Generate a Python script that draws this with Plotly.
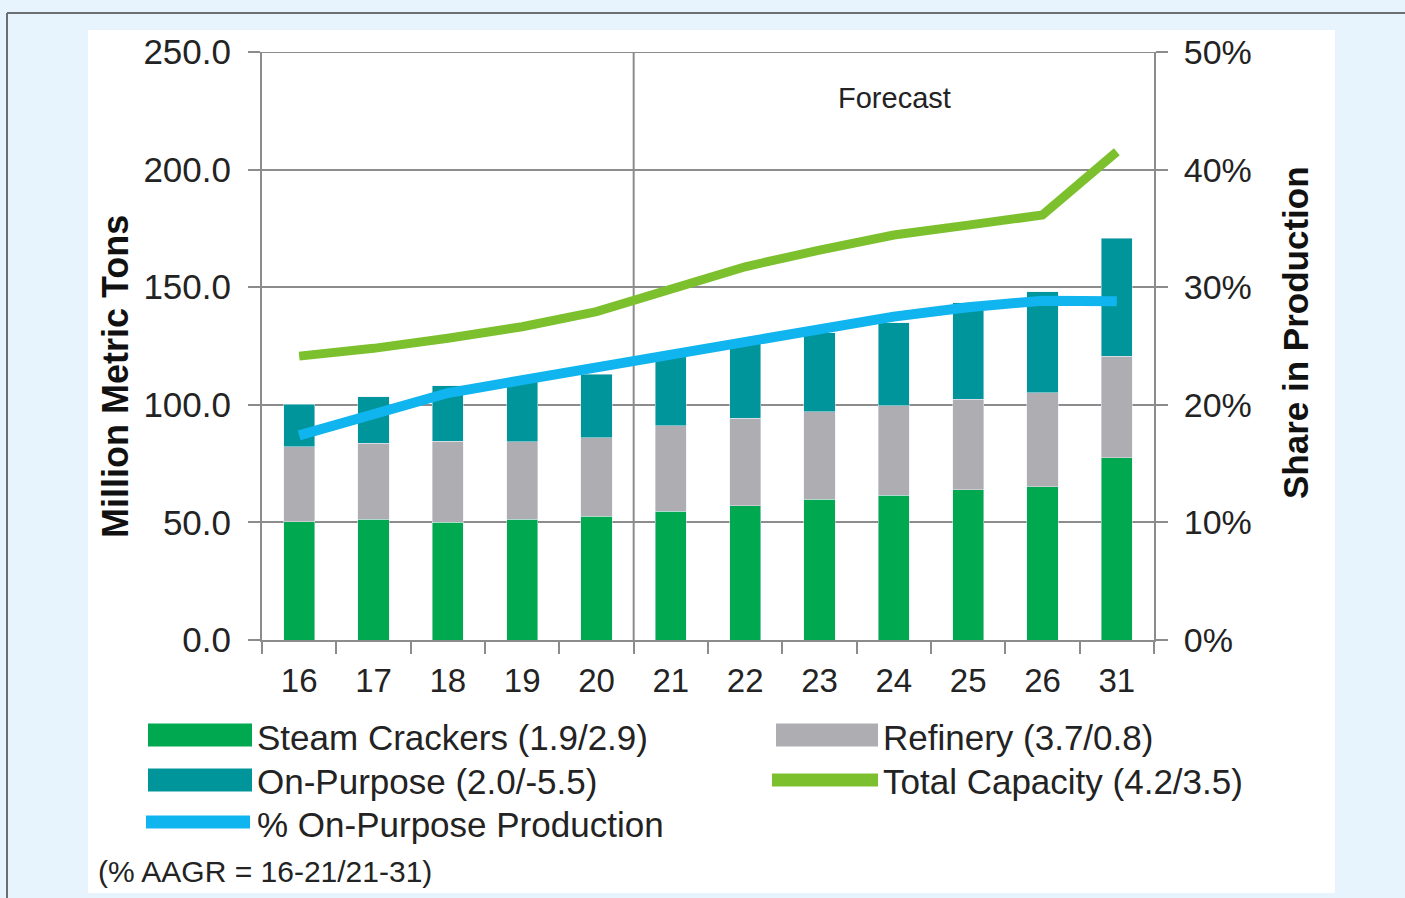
import plotly.graph_objects as go

# Production by source (million metric tons) and share of on-purpose output
years = ["16", "17", "18", "19", "20", "21", "22", "23", "24", "25", "26", "31"]
steam_crackers = [50.3, 51.4, 50.0, 51.4, 52.7, 54.8, 57.0, 59.8, 61.6, 63.8, 65.2, 77.5]
refinery = [31.9, 32.2, 34.6, 32.9, 33.3, 36.2, 37.3, 37.3, 37.9, 38.5, 39.9, 43.2]
on_purpose = [18.1, 19.8, 23.4, 27.0, 27.0, 29.7, 31.8, 33.6, 35.3, 41.1, 43.0, 50.1]
total_capacity = [120.7, 124.0, 128.3, 133.2, 139.6, 148.8, 158.7, 165.8, 172.2, 176.4, 180.7, 207.6]
pct_on_purpose = [0.174, 0.193, 0.210, 0.221, 0.232, 0.244, 0.2545, 0.265, 0.275, 0.283, 0.2885, 0.288]

legend_labels = [
    "Steam Crackers (1.9/2.9)",
    "Refinery (3.7/0.8)",
    "On-Purpose (2.0/-5.5)",
    "Total Capacity (4.2/3.5)",
    "% On-Purpose Production",
]
note_text = "(% AAGR = 16-21/21-31)"

C_STEAM = "#00a84f"
C_REF = "#aeadb1"
C_ONP = "#00959a"
C_TOT = "#7cc12d"
C_PCT = "#10b4ee"
GRID = "#8c8c8c"
TXT = "#232323"
FONT = "Liberation Sans, Arial, sans-serif"

W, H = 1405, 898


def px(x):
    return x / W


def py(y):
    return 1 - y / H


fig = go.Figure()
fig.add_bar(x=years, y=steam_crackers, marker_color=C_STEAM, name=legend_labels[0])
fig.add_bar(x=years, y=refinery, marker_color=C_REF, name=legend_labels[1])
fig.add_bar(x=years, y=on_purpose, marker_color=C_ONP, name=legend_labels[2])
fig.add_scatter(x=years, y=total_capacity, mode="lines", name=legend_labels[3],
                line=dict(color=C_TOT, width=9))
fig.add_scatter(x=years, y=pct_on_purpose, mode="lines", name=legend_labels[4],
                yaxis="y2", line=dict(color=C_PCT, width=10))

x0, x1 = 262, 1154
y_top, y_bot = 52, 640

axis_common = dict(
    showline=True, linecolor=GRID, linewidth=2,
    ticks="outside", tickcolor=GRID, tickwidth=2, ticklen=12,
    automargin=False,
)

fig.update_layout(
    width=W, height=H,
    margin=dict(l=0, r=0, t=0, b=0, pad=0, autoexpand=False),
    paper_bgcolor="#e7f3fd",
    plot_bgcolor="rgba(0,0,0,0)",
    barmode="stack",
    bargap=0.58,
    showlegend=False,
    xaxis=dict(
        domain=[px(x0), px(x1)],
        type="category",
        tickson="boundaries",
        showgrid=False,
        ticklabelstandoff=10,
        tickfont=dict(family=FONT, size=33, color=TXT),
        **axis_common,
    ),
    yaxis=dict(
        domain=[py(y_bot), py(y_top)],
        range=[0, 250], dtick=50, tickformat=".1f",
        showgrid=True, gridcolor=GRID, gridwidth=2,
        zeroline=False,
        ticklabelstandoff=10,
        tickfont=dict(family=FONT, size=35, color=TXT),
        **axis_common,
    ),
    yaxis2=dict(
        overlaying="y", side="right",
        range=[0, 0.5], dtick=0.1, tickformat=".0%",
        showgrid=False, zeroline=False,
        ticklabelstandoff=9,
        tickfont=dict(family=FONT, size=34, color=TXT),
        **axis_common,
    ),
)

shapes = [
    # white card behind the chart
    dict(type="rect", xref="paper", yref="paper", x0=px(88), x1=px(1335),
         y0=py(893), y1=py(30), fillcolor="white", line_width=0, layer="below"),
    # frame edges
    dict(type="line", xref="paper", yref="paper", x0=px(7), x1=1.0,
         y0=py(13), y1=py(13), line=dict(color="#6b6e72", width=2)),
    dict(type="line", xref="paper", yref="paper", x0=px(7), x1=px(7),
         y0=py(13), y1=0.0, line=dict(color="#6b6e72", width=2)),
    # top gridline
    dict(type="line", xref="paper", yref="y", x0=px(250), x1=px(1166),
         y0=250, y1=250, line=dict(color=GRID, width=2), layer="below"),
    # history / forecast divider
    dict(type="line", xref="x", yref="y", x0=4.5, x1=4.5, y0=0, y1=250,
         line=dict(color=GRID, width=2), layer="below"),
]

# legend swatches
swatches = [
    ("rect", C_STEAM, 148, 252, 735),
    ("rect", C_REF, 776, 878, 735),
    ("rect", C_ONP, 148, 252, 780),
    ("line", C_TOT, 772, 878, 780),
    ("line", C_PCT, 146, 250, 822),
]
for kind, col, xa, xb, yc in swatches:
    if kind == "rect":
        shapes.append(dict(type="rect", xref="paper", yref="paper",
                           x0=px(xa), x1=px(xb), y0=py(yc + 11.5), y1=py(yc - 11.5),
                           fillcolor=col, line_width=0))
    else:
        shapes.append(dict(type="line", xref="paper", yref="paper",
                           x0=px(xa), x1=px(xb), y0=py(yc), y1=py(yc),
                           line=dict(color=col, width=13)))
fig.update_layout(shapes=shapes)

legend_pos = [(255, 737), (881, 737), (255, 781), (881, 781), (255, 824)]
annotations = []
for label, (lx, ly) in zip(legend_labels, legend_pos):
    annotations.append(dict(text=label, x=px(lx), y=py(ly), xref="paper", yref="paper",
                            xanchor="left", yanchor="middle", showarrow=False,
                            font=dict(family=FONT, size=35, color=TXT)))
annotations += [
    dict(text=note_text, x=px(96), y=py(871), xref="paper", yref="paper",
         xanchor="left", yanchor="middle", showarrow=False,
         font=dict(family=FONT, size=30, color=TXT)),
    dict(text="Forecast", x=px(895), y=py(98), xref="paper", yref="paper",
         xanchor="center", yanchor="middle", showarrow=False,
         font=dict(family=FONT, size=29, color=TXT)),
    dict(text="<b>Million Metric Tons</b>", x=px(115), y=py(377), xref="paper", yref="paper",
         xanchor="center", yanchor="middle", textangle=-90, showarrow=False,
         font=dict(family=FONT, size=36, color="#111")),
    dict(text="<b>Share in Production</b>", x=px(1295), y=py(333), xref="paper", yref="paper",
         xanchor="center", yanchor="middle", textangle=-90, showarrow=False,
         font=dict(family=FONT, size=35, color="#111")),
]
fig.update_layout(annotations=annotations)

fig.write_html("out.html")
